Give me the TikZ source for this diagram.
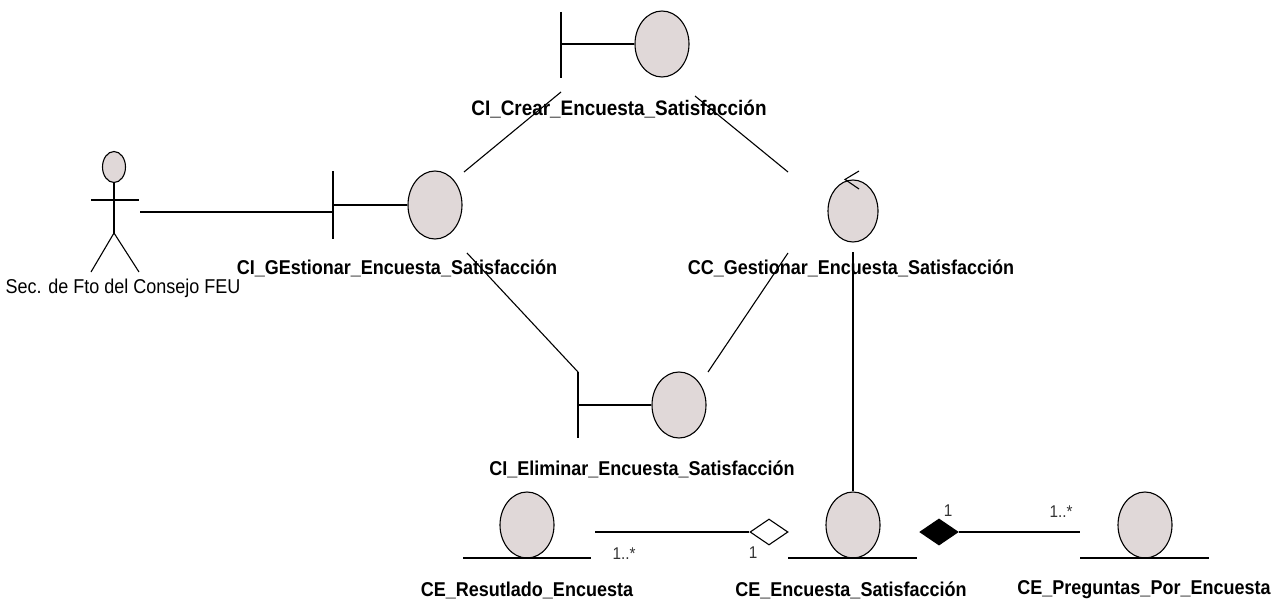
\documentclass[tikz,border=0pt]{standalone}
\usepackage{fontspec}
\setmainfont{Liberation Sans}[FakeStretch=0.9]
\usetikzlibrary{shapes.geometric,arrows.meta}
\definecolor{objfill}{HTML}{E0D8D8}

\begin{document}
\begin{tikzpicture}[x=1pt,y=-1pt,line width=1.1pt,
    obj/.style={draw,ellipse,fill=objfill,inner sep=0pt,minimum width=54pt,minimum height=66pt},
    lbl/.style={font=\fontsize{20}{20}\selectfont\bfseries,inner sep=0pt},
    mult/.style={font=\fontsize{17}{17}\selectfont,text=black!80,inner sep=0pt}]
    \useasboundingbox (0,0) rectangle (1282,602);

    % actor
    \node[draw,ellipse,fill=objfill,inner sep=0pt,minimum width=23pt,minimum height=31pt] (head) at (114,167) {};
    \coordinate (hip) at (114,233);
    \coordinate (armL) at (91,200);
    \coordinate (armR) at (139,200);
    \coordinate (legL) at (91,272);
    \coordinate (legR) at (139,272);
    \draw (head.south) -- (hip);
    \draw (armL) -- (armR);
    \draw (legL) -- (hip) -- (legR);
    \node[font=\fontsize{20}{20}\selectfont,inner sep=0pt] (actorlbl) at (123,288) {Sec. de Fto del Consejo FEU};

    % boundaries
    \node[obj] (crear) at (662,44) {};
    \coordinate (crearT) at (561,12);
    \coordinate (crearB) at (561,78);
    \draw (crearT) -- (crearB);
    \draw (crear.west) -- (crear.west -| crearT);
    \node[lbl,font=\fontsize{21}{21}\selectfont\bfseries] (crearlbl) at (619,109) {CI\_Crear\_Encuesta\_Satisfacción};

    \node[obj,minimum height=68pt] (gest) at (435,205) {};
    \coordinate (gestT) at (333,171);
    \coordinate (gestB) at (333,239);
    \draw (gestT) -- (gestB);
    \draw (gest.west) -- (gest.west -| gestT);
    \node[lbl] (gestlbl) at (397,268) {CI\_GEstionar\_Encuesta\_Satisfacción};

    \node[obj] (elim) at (679,405) {};
    \coordinate (elimT) at (578,372);
    \coordinate (elimB) at (578,438);
    \draw (elimT) -- (elimB);
    \draw (elim.west) -- (elim.west -| elimT);
    \node[lbl] (elimlbl) at (642,469) {CI\_Eliminar\_Encuesta\_Satisfacción};

    % control
    \node[obj,minimum width=50pt,minimum height=62pt] (ctrl) at (853,211) {};
    \coordinate (tipA) at (859,171);
    \coordinate (tipB) at (859,189);
    \draw (tipA) -- (ctrl.north -| 845,0) -- (tipB);
    \node[lbl] (ctrllbl) at (851,268) {CC\_Gestionar\_Encuesta\_Satisfacción};

    % entities
    \node[obj] (res) at (527,525) {};
    \coordinate (resL) at (463,558);
    \coordinate (resR) at (591,558);
    \draw (resL) -- (resR);
    \node[lbl] (reslbl) at (527,590) {CE\_Resutlado\_Encuesta};

    \node[obj] (enc) at (853,525) {};
    \coordinate (encL) at (788,558);
    \coordinate (encR) at (917,558);
    \draw (encL) -- (encR);
    \node[lbl] (enclbl) at (851,590) {CE\_Encuesta\_Satisfacción};

    \node[obj] (preg) at (1145,525) {};
    \coordinate (pregL) at (1080,558);
    \coordinate (pregR) at (1209,558);
    \draw (pregL) -- (pregR);
    \node[lbl] (preglbl) at (1144,590) {CE\_Preguntas\_Por\_Encuesta};

    % links
    \coordinate (actorEnd) at (140,212);
    \coordinate (gestEnd) at (333,212);
    \draw (actorEnd) -- (gestEnd);
    \coordinate (a1) at (464,172);
    \coordinate (a2) at (561,92);
    \draw (a1) -- (a2);
    \coordinate (b1) at (695,96);
    \coordinate (b2) at (788,172);
    \draw (b1) -- (b2);
    \coordinate (c1) at (467,253);
    \coordinate (c2) at (578,372);
    \draw (c1) -- (c2);
    \coordinate (d1) at (708,372);
    \coordinate (d2) at (788,253);
    \draw (d1) -- (d2);
    \coordinate (ctrlEnd) at (853,252);
    \draw (ctrlEnd) -- (enc.north);

    \node[draw,diamond,fill=white,inner sep=0pt,minimum width=38pt,minimum height=26pt] (aggr) at (769,532) {};
    \node[draw,diamond,fill=black,inner sep=0pt,minimum width=38pt,minimum height=26pt] (comp) at (939,532) {};
    \coordinate (resEnd) at (595,532);
    \coordinate (pregEnd) at (1080,532);
    \draw (resEnd) -- (aggr.west);
    \draw (comp.east) -- (pregEnd);

    \node[mult] (m1) at (624,554) {1..*};
    \node[mult] (m2) at (753,553) {1};
    \node[mult] (m3) at (948,511) {1};
    \node[mult] (m4) at (1061,512) {1..*};
\end{tikzpicture}
\end{document}
